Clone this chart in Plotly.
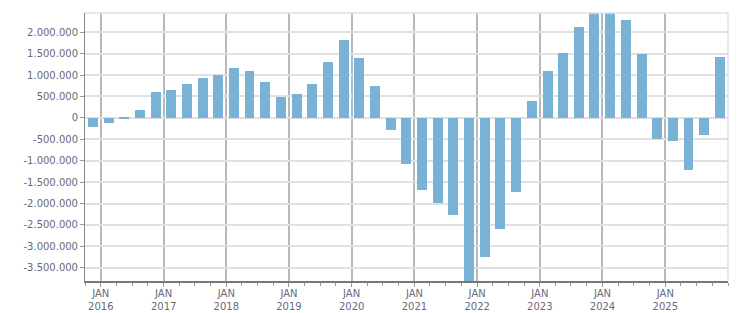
import plotly.graph_objects as go

quarters = ["2015-11-15", "2016-02-15", "2016-05-16", "2016-08-16", "2016-11-15",
            "2017-02-15", "2017-05-16", "2017-08-16", "2017-11-15",
            "2018-02-15", "2018-05-16", "2018-08-16", "2018-11-15",
            "2019-02-15", "2019-05-16", "2019-08-16", "2019-11-15",
            "2020-02-15", "2020-05-16", "2020-08-16", "2020-11-15",
            "2021-02-15", "2021-05-16", "2021-08-16", "2021-11-15",
            "2022-02-15", "2022-05-16", "2022-08-16", "2022-11-15",
            "2023-02-15", "2023-05-16", "2023-08-16", "2023-11-15",
            "2024-02-15", "2024-05-16", "2024-08-16", "2024-11-15",
            "2025-02-15", "2025-05-16", "2025-08-16", "2025-11-15"]
values = [-204000, -117000, -25000, 195000, 609000,
          640000, 797000, 937000, 1008000,
          1172000, 1102000, 844000, 492000,
          562000, 797000, 1312000, 1828000,
          1406000, 750000, -274000, -1071000,
          -1680000, -1984000, -2266000, -3810000,
          -3250000, -2594000, -1727000, 398000,
          1102000, 1523000, 2133000, 2450000,
          2450000, 2297000, 1500000, -484000,
          -531000, -1211000, -391000, 1430000]
ytick_vals = [-3500000, -3000000, -2500000, -2000000, -1500000, -1000000, -500000,
              0, 500000, 1000000, 1500000, 2000000]
xtick_years = list(range(2016, 2026))

ytick_text = [f"{v:,}".replace(",", ".") for v in ytick_vals]
xtick_vals = [f"{y}-01-01" for y in xtick_years]
xtick_text = [f"JAN<br>{y}" for y in xtick_years]

fig = go.Figure(go.Bar(
    x=quarters, y=values,
    marker=dict(color="#78b2d5", line=dict(width=0)),
    width=58 * 86400000,
))

font = dict(family="DejaVu Sans, Verdana, sans-serif", size=10, color="#6a6a7a")

fig.update_layout(
    width=751, height=313,
    margin=dict(l=85, r=23, t=13, b=32),
    paper_bgcolor="white", plot_bgcolor="white",
    showlegend=False,
    bargap=0,
    font=font,
    xaxis=dict(
        type="date",
        automargin=False,
        range=["2015-10-01", "2026-01-01"],
        tickvals=xtick_vals, ticktext=xtick_text,
        showgrid=True, gridcolor="#b8b8b8", gridwidth=1.5,
        ticks="outside", ticklen=4, tickcolor="#999", tickwidth=1,
        ticklabelstandoff=-2,
        showline=True, linecolor="#777", linewidth=2,
        mirror=False,
        minor=dict(dtick="M3", tick0="2016-01-01", ticks="outside", ticklen=3,
                   tickcolor="#999", showgrid=False),
        tickfont=font,
        zeroline=False,
    ),
    yaxis=dict(
        automargin=False,
        range=[-3810000, 2450000],
        tickvals=ytick_vals, ticktext=ytick_text,
        showgrid=True, gridcolor="#e0e0e0", gridwidth=1.5,
        ticks="outside", ticklen=4, tickcolor="#999",
        showline=True, linecolor="#888", linewidth=1,
        zeroline=False,
        tickfont=font,
    ),
    shapes=[
        dict(type="line", xref="paper", yref="paper", x0=1, x1=1, y0=0, y1=1,
             line=dict(color="#e0e0e0", width=1.5)),
        dict(type="line", xref="paper", yref="paper", x0=0, x1=1, y0=1, y1=1,
             line=dict(color="#e0e0e0", width=1.5)),
    ],
)

fig.write_html("out.html")
